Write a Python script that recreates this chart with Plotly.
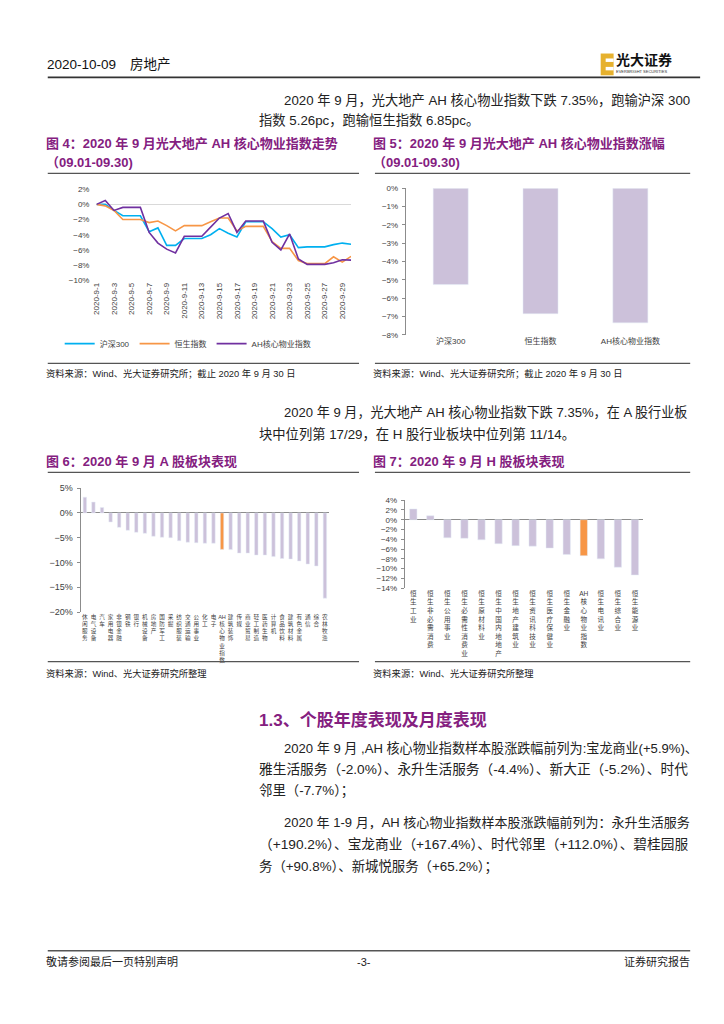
import re
import plotly.graph_objects as go

# ---------------- data ----------------
dates = ["2020-9-1", "2020-9-2", "2020-9-3", "2020-9-4", "2020-9-5", "2020-9-6",
         "2020-9-7", "2020-9-8", "2020-9-9", "2020-9-10", "2020-9-11", "2020-9-12",
         "2020-9-13", "2020-9-14", "2020-9-15", "2020-9-16", "2020-9-17", "2020-9-18",
         "2020-9-19", "2020-9-20", "2020-9-21", "2020-9-22", "2020-9-23", "2020-9-24",
         "2020-9-25", "2020-9-26", "2020-9-27", "2020-9-28", "2020-9-29", "2020-9-30"]
hs300 = [0.0, 0.0, -0.8, -1.5, -1.5, -1.5, -3.6, -3.1, -5.4, -5.4, -4.5, -4.5, -4.5,
         -4.0, -3.2, -3.8, -4.3, -2.3, -2.3, -2.3, -3.2, -4.3, -4.0, -5.7, -5.6, -5.6,
         -5.6, -5.3, -5.1, -5.26]
hsi = [0.0, -0.2, -0.8, -2.0, -2.0, -2.0, -2.4, -2.2, -2.8, -3.5, -2.8, -2.8, -2.8,
       -2.3, -1.8, -1.8, -3.5, -2.9, -2.9, -2.9, -4.9, -5.8, -5.8, -7.4, -7.8, -7.8,
       -7.8, -6.9, -7.6, -6.85]
ah_idx = [0.0, 0.5, -0.8, -0.4, -0.4, -0.4, -3.7, -5.1, -5.9, -6.4, -4.2, -4.2, -4.2,
          -3.0, -1.8, -1.2, -3.7, -2.2, -2.2, -2.2, -5.0, -6.0, -3.9, -7.2, -7.9, -7.9,
          -7.9, -7.7, -7.3, -7.35]
line_names = ["沪深300", "恒生指数", "AH核心物业指数"]
date_ticks = dates[::2]

idx_names = ["沪深300", "恒生指数", "AH核心物业指数"]
idx_chg = [-5.26, -6.85, -7.35]

a_names = ["休闲服务", "电气设备", "汽车", "家用电器", "非银金融", "钢铁", "银行", "机械设备",
           "房地产", "国防军工", "采掘", "纺织服装", "交通运输", "公用事业", "化工", "电子",
           "AH核心物业指数", "建筑装饰", "传媒", "商业贸易", "轻工制造", "医药生物", "计算机",
           "食品饮料", "建筑材料", "有色金属", "通信", "综合", "农林牧渔"]
a_chg = [3.2, 2.2, 1.1, -1.8, -2.9, -3.5, -3.9, -4.1, -4.7, -4.9, -5.0, -5.6, -5.9, -6.0,
         -6.1, -6.1, -7.35, -7.4, -8.1, -8.1, -8.5, -8.5, -8.8, -9.2, -9.3, -9.7, -10.3,
         -10.7, -17.2]

h_names = ["恒生工业", "恒生非必需消费", "恒生公用事业", "恒生必需性消费业", "恒生原材料业",
           "恒生中国内地地产", "恒生地产建筑业", "恒生资讯科技业", "恒生医疗保健业", "恒生金融业",
           "AH核心物业指数", "恒生电讯业", "恒生综合业", "恒生能源业"]
h_chg = [2.2, 0.8, -3.7, -3.8, -4.1, -4.9, -5.3, -5.4, -5.8, -7.1, -7.35, -8.0, -9.7, -11.3]

# ---------------- helpers ----------------
W, H = 724, 1024
def px(x): return x / W
def py(y): return 1 - y / H

FONT = "Liberation Sans, Arial, Noto Sans CJK SC"
CJK = "Liberation Sans, Noto Sans CJK SC"
PURPLE_T = "#84207F"
BAR = "#CCC1DA"
HILITE = "#F79646"
AXC = "#8C8C8C"
TXT = "#404040"

def stack(label):
    return "<br>".join(re.findall(r"[A-Za-z0-9]+|.", label))

fig = go.Figure()

# Chart 4: lines
line_colors = ["#00B0F0", "#F79646", "#7030A0"]
for nm, ser, col in zip(line_names, [hs300, hsi, ah_idx], line_colors):
    fig.add_trace(go.Scatter(x=dates, y=ser, mode="lines", name=nm,
                             line=dict(color=col, width=1.6), xaxis="x", yaxis="y"))

# Chart 5: index bars
fig.add_trace(go.Bar(x=idx_names, y=idx_chg, marker_color=BAR, width=0.39,
                     showlegend=False, xaxis="x2", yaxis="y2"))

# Chart 6: A-share
fig.add_trace(go.Bar(x=a_names, y=a_chg, width=0.4, showlegend=False,
                     marker_color=[HILITE if "AH" in n else BAR for n in a_names],
                     xaxis="x3", yaxis="y3"))

# Chart 7: H-share
fig.add_trace(go.Bar(x=h_names, y=h_chg, width=0.43, showlegend=False,
                     marker_color=[HILITE if "AH" in n else BAR for n in h_names],
                     xaxis="x4", yaxis="y4"))

tick8 = dict(size=8, color=TXT, family=FONT)

fig.update_layout(
    width=W, height=H, margin=dict(l=0, r=0, t=0, b=0),
    paper_bgcolor="white", plot_bgcolor="white",
    font=dict(family=CJK, color="#222"),
    xaxis=dict(domain=[px(93), px(349)], anchor="y", type="category",
               tickmode="array", tickvals=date_ticks, ticktext=date_ticks,
               tickangle=-90, tickfont=tick8, showgrid=False, showline=False,
               ticks="", zeroline=False),
    yaxis=dict(domain=[py(278), py(186)], anchor="x", range=[-10, 2], dtick=2,
               ticksuffix="%", tickfont=tick8, showgrid=False, showline=False,
               zeroline=True, zerolinecolor="#D9D9D9", zerolinewidth=1,
               ticklabelstandoff=6),
    xaxis2=dict(domain=[px(404), px(675)], anchor="y2", type="category",
                tickfont=tick8, showgrid=False, showline=False, ticks="",
                range=[-0.5, 2.5]),
    yaxis2=dict(domain=[py(333), py(185)], anchor="x2", range=[-8, 0], dtick=1,
                ticksuffix="%", tickfont=tick8, showgrid=False, showline=True,
                linecolor=AXC, ticks="outside", ticklen=3, tickcolor=AXC,
                zeroline=False, ticklabelstandoff=2),
    xaxis5=dict(overlaying="x2", anchor="y2", side="top", range=[-0.5, 2.5],
                tickmode="array", tickvals=[0.5, 1.5, 2.5], showticklabels=False,
                ticks="outside", ticklen=3, tickcolor=AXC, showline=True,
                linecolor=AXC, showgrid=False, zeroline=False),
    xaxis3=dict(domain=[px(77), px(327)], anchor="y3", type="category",
                tickmode="array", tickvals=a_names,
                ticktext=[stack(n) for n in a_names], tickangle=0,
                tickfont=dict(size=5.6, color=TXT, family=CJK),
                showgrid=False, showline=False, ticks=""),
    yaxis3=dict(domain=[py(613), py(488)], anchor="x3", range=[-20, 5], dtick=5,
                ticksuffix="%", tickfont=dict(size=9, color=TXT, family=FONT),
                showgrid=False, showline=True, linecolor=AXC, ticks="outside",
                ticklen=3, tickcolor=AXC, zeroline=True, zerolinecolor=AXC,
                zerolinewidth=1, ticklabelstandoff=2),
    xaxis4=dict(domain=[px(403), px(643)], anchor="y4", type="category",
                tickmode="array", tickvals=h_names,
                ticktext=[stack(n) for n in h_names], tickangle=0,
                tickfont=dict(size=6.6, color=TXT, family=CJK),
                showgrid=False, showline=False, ticks=""),
    yaxis4=dict(domain=[py(589), py(500)], anchor="x4", range=[-14, 4], dtick=2,
                ticksuffix="%", tickfont=tick8, showgrid=False, showline=True,
                linecolor=AXC, ticks="outside", ticklen=3, tickcolor=AXC,
                zeroline=True, zerolinecolor=AXC, zerolinewidth=1,
                ticklabelstandoff=2),
    legend=dict(orientation="h", x=px(56), y=py(342), xanchor="left",
                yanchor="middle", font=dict(size=8, color=TXT, family=FONT),
                itemwidth=30, bgcolor="rgba(0,0,0,0)"),
)

# ---------------- page text ----------------
ann = []
def text(x, y, s, size=13.5, color="#222", bold=False, anchor="left", family=CJK):
    if bold:
        s = "<b>" + s + "</b>"
    if anchor == "left":
        x -= 4
    elif anchor == "right":
        x += 2
    ann.append(dict(x=px(x), y=py(y), xref="paper", yref="paper", text=s,
                    showarrow=False, xanchor=anchor, yanchor="middle",
                    font=dict(size=size, color=color, family=family)))

text(45, 60, "2020-10-09", size=13.5, color="#111")
text(129, 60, "房地产", size=13.5, color="#111")
text(617, 56, "光大证券", size=14, color="#111", bold=True)
text(617, 67, "EVERBRIGHT SECURITIES", size=4, color="#333")

text(284, 96, "2020 年 9 月，光大地产 AH 核心物业指数下跌 7.35%，跑输沪深 300", size=13.27)
text(258, 117, "指数 5.26pc，跑输恒生指数 6.85pc。", size=13.3)

TS = 13
text(44, 140, "图 4：2020 年 9 月光大地产 AH 核心物业指数走势", size=TS, color=PURPLE_T, bold=True)
text(44, 159, "（09.01-09.30)", size=TS, color=PURPLE_T, bold=True)
text(373, 140, "图 5：2020 年 9 月光大地产 AH 核心物业指数涨幅", size=TS, color=PURPLE_T, bold=True)
text(373, 159, "（09.01-09.30)", size=TS, color=PURPLE_T, bold=True)

text(44, 372, "资料来源：Wind、光大证券研究所；截止 2020 年 9 月 30 日", size=9.3, color="#222")
text(373, 372, "资料来源：Wind、光大证券研究所；截止 2020 年 9 月 30 日", size=9.3, color="#222")

text(284, 412, "2020 年 9 月，光大地产 AH 核心物业指数下跌 7.35%，在 A 股行业板", size=13.08)
text(258, 433, "块中位列第 17/29，在 H 股行业板块中位列第 11/14。", size=13.3)

text(44, 461, "图 6：2020 年 9 月 A 股板块表现", size=TS, color=PURPLE_T, bold=True)
text(373, 461, "图 7：2020 年 9 月 H 股板块表现", size=TS, color=PURPLE_T, bold=True)

text(44, 675, "资料来源：Wind、光大证券研究所整理", size=9.3, color="#222")
text(373, 675, "资料来源：Wind、光大证券研究所整理", size=9.3, color="#222")

text(258, 722, "1.3、个股年度表现及月度表现", size=17, color=PURPLE_T, bold=True)

text(284, 750, "2020 年 9 月 ,AH 核心物业指数样本股涨跌幅前列为:宝龙商业(+5.9%)、", size=13.08)
text(258, 772, "雅生活服务（-2.0%）、永升生活服务（-4.4%）、新大正（-5.2%）、时代", size=13.7)
text(258, 794, "邻里（-7.7%）；", size=13.4)
text(284, 826, "2020 年 1-9 月，AH 核心物业指数样本股涨跌幅前列为：永升生活服务", size=13.02)
text(258, 848, "（+190.2%）、宝龙商业（+167.4%）、时代邻里（+112.0%）、碧桂园服", size=13.7)
text(258, 870, "务（+90.8%）、新城悦服务（+65.2%）；", size=13.4)

text(44, 966, "敬请参阅最后一页特别声明", size=11, color="#222")
text(362, 966, "-3-", size=11, color="#222", anchor="center")
text(690, 966, "证券研究报告", size=11, color="#222", anchor="right")

fig.update_layout(annotations=ann)

# ---------------- rules & logo ----------------
shapes = []
def hline(x0, x1, y, w=1.2, c="#555555"):
    shapes.append(dict(type="line", xref="paper", yref="paper", x0=px(x0), x1=px(x1),
                       y0=py(y), y1=py(y), line=dict(color=c, width=w)))
def rect(x0, y0, x1, y1, c):
    shapes.append(dict(type="rect", xref="paper", yref="paper", x0=px(x0), x1=px(x1),
                       y0=py(y1), y1=py(y0), fillcolor=c, line=dict(width=0)))

hline(44, 700, 73, w=1.8, c="#333333")
for y in (170, 362, 472, 663):
    hline(44, 357, y)
    hline(373, 690, y)
hline(44, 690, 955, w=1.5)

rect(600, 49, 613, 71, "#E6B12E")
rect(605, 54, 613, 57.5, "white")
rect(605, 62.5, 613, 66, "white")

fig.update_layout(shapes=shapes)

fig.write_html("out.html", config={"displayModeBar": False},
               post_script="document.body.style.margin='0px';"
                           "document.body.style.padding='0px';"
                           "document.body.style.overflow='hidden';")
